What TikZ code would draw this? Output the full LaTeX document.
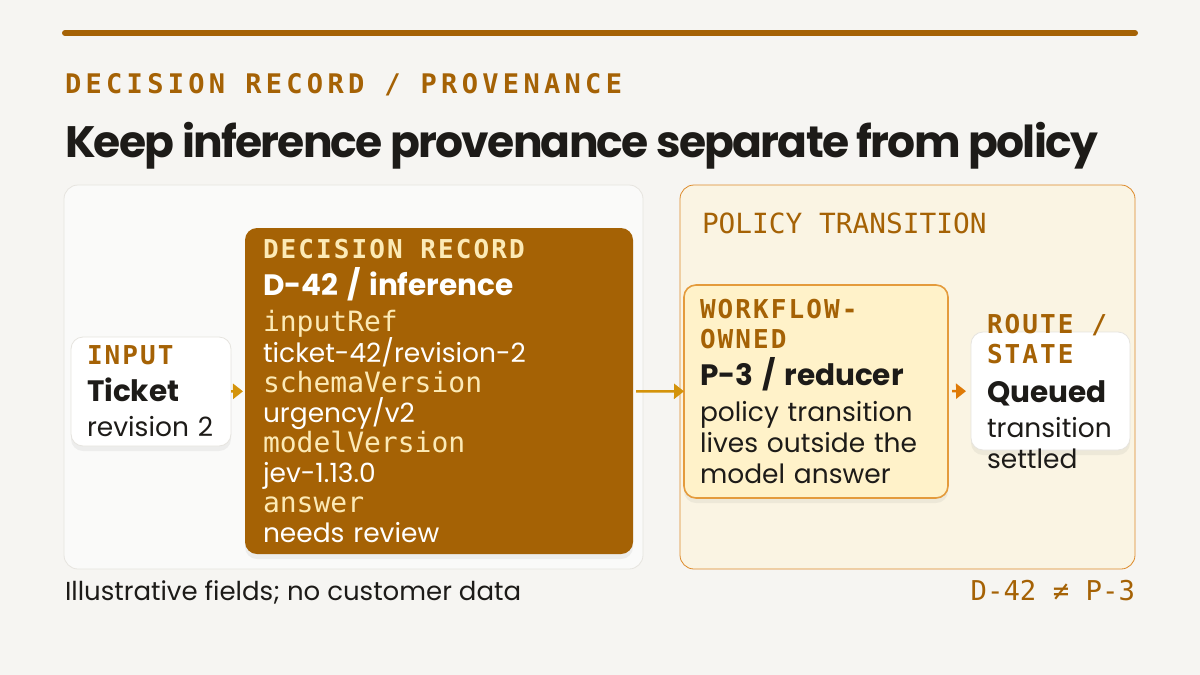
\documentclass[tikz,border=0pt]{standalone}
\usepackage{fontspec}
\setmainfont{Poppins}
\newfontfamily\monofont{DejaVu Sans Mono}
\newfontfamily\labelfont{DejaVu Sans Mono}[LetterSpace=8]
\newfontfamily\kickerfont{DejaVu Sans Mono}[LetterSpace=16]
\newfontfamily\headfont{Poppins}[LetterSpace=-4]
\usetikzlibrary{arrows.meta,shadows}

\definecolor{paper}{HTML}{F6F5F2}
\definecolor{ink}{HTML}{1D1B18}
\definecolor{bark}{HTML}{A56205}
\definecolor{cream}{HTML}{FCEAB6}
\definecolor{evfill}{HTML}{FAFAF9}
\definecolor{evline}{HTML}{E6E4DF}
\definecolor{polfill}{HTML}{FAF4E3}
\definecolor{polline}{HTML}{DD8A2A}
\definecolor{wffill}{HTML}{FFF2C9}
\definecolor{wfline}{HTML}{E49B3C}
\definecolor{gold}{HTML}{D4930A}
\definecolor{amber}{HTML}{DF7A06}

\lineskiplimit=-100pt
\newcommand\cardlabel[2][bark]{{\color{#1}\labelfont\bfseries\fontsize{26}{30}\selectfont\spaceskip=17.7pt\relax #2}}
\newcommand\cardhead[1]{{\bfseries\fontsize{29.5}{30}\selectfont #1}}
\newcommand\fieldname[1]{{\color{cream}\monofont\fontsize{28}{30}\selectfont #1}}
\newcommand\kickerstyle{\kickerfont\bfseries\fontsize{27}{30}\selectfont\spaceskip=20pt\relax}

\begin{document}
\begin{tikzpicture}
	[x=1pt, y=-1pt,
	 every node/.style={inner sep=0pt, outer sep=0pt},
	 >={Triangle[length=10pt, width=15pt]},
	 panelbox/.style={anchor=north west, rounded corners=14pt, line width=0.8pt},
	 card/.style={anchor=north west, rounded corners=12pt,
	   drop shadow={opacity=0.10, shadow xshift=0pt, shadow yshift=-5pt}},
	 cardtext/.style={align=left, text=ink, font=\fontsize{26.5}{30}\selectfont}]
	\useasboundingbox (0,0) rectangle (1200,675);
	\fill[paper] (0,0) rectangle (1200,675);
	\draw[bark, line width=6pt, line cap=round] (65,33) -- (1135,33);
	
	% heading
	\node[anchor=base west, text=bark, font=\kickerstyle] (kicker) at (65,93) {DECISION RECORD / PROVENANCE};
	\node[anchor=base west, text=ink, font=\headfont\bfseries\fontsize{44}{50}\selectfont] (title) at (65,157) {Keep inference provenance separate from policy};
	
	% the two panels
	\node[panelbox, fill=evfill, draw=evline, minimum width=579pt, minimum height=384pt] (evidence) at (64,185) {};
	\node[panelbox, fill=polfill, draw=polline, minimum width=455pt, minimum height=384pt] (policy) at (680,185) {};
	\node[anchor=base west, text=bark, font=\monofont\fontsize{27.8}{30}\selectfont] (policylabel) at (702,233) {POLICY TRANSITION};
	
	% cards
	\node[card, cardtext, fill=white, draw=evline, line width=0.8pt, minimum width=160pt, minimum height=109pt, text width=128pt, inner xsep=16pt] (input) at (71,337)
		{\cardlabel{INPUT}\\[7pt] \cardhead{Ticket}\\[5pt] revision 2};
	\node[card, cardtext, fill=bark, text=white, minimum width=388pt, minimum height=326pt, text width=352pt, inner xsep=18pt] (record) at (245,228)
		{\cardlabel[cream]{DECISION RECORD}\\[7pt] \cardhead{D-42 / inference}\\[6pt]
		 \fieldname{inputRef}\\ ticket-42/revision-2\\
		 \fieldname{schemaVersion}\\ urgency/v2\\
		 \fieldname{modelVersion}\\ jev-1.13.0\\
		 \fieldname{answer}\\ needs review};
	\node[card, cardtext, fill=wffill, draw=wfline, line width=1.6pt, minimum width=264pt, minimum height=213pt, text width=232pt, inner xsep=16pt] (workflow) at (684,285)
		{\cardlabel{WORKFLOW-}\\ \cardlabel{OWNED}\\[7pt] \cardhead{P-3 / reducer}\\[6pt]
		 policy transition\\[1pt] lives outside the\\[1pt] model answer};
	\node[card, fill=white, draw=evline, line width=0.8pt, minimum width=159pt, minimum height=118pt] (route) at (971,332) {};
	\node[cardtext, anchor=north west, text width=150pt] (routetext) at (987,314)
		{\cardlabel{ROUTE /}\\ \cardlabel{STATE}\\[9pt] \cardhead{Queued}\\[5pt] transition\\[1pt] settled};
	
	% footer
	\node[anchor=base west, text=ink, font=\fontsize{26}{30}\selectfont] (note) at (65,600) {Illustrative fields; no customer data};
	\node[anchor=base east, text=bark, font=\monofont\fontsize{27.3}{30}\selectfont] (tally) at (1135,600) {D-42 ≠ P-3};
	
	\path[->, line width=2.5pt] (input) edge[gold, shorten >=2pt] (record);
	\path[->, line width=2.5pt] (record) edge[gold, shorten <=3pt] (workflow);
	\path[->, line width=2.5pt] (workflow) edge[amber, shorten <=4pt, shorten >=5pt] (route);
\end{tikzpicture}
\end{document}
